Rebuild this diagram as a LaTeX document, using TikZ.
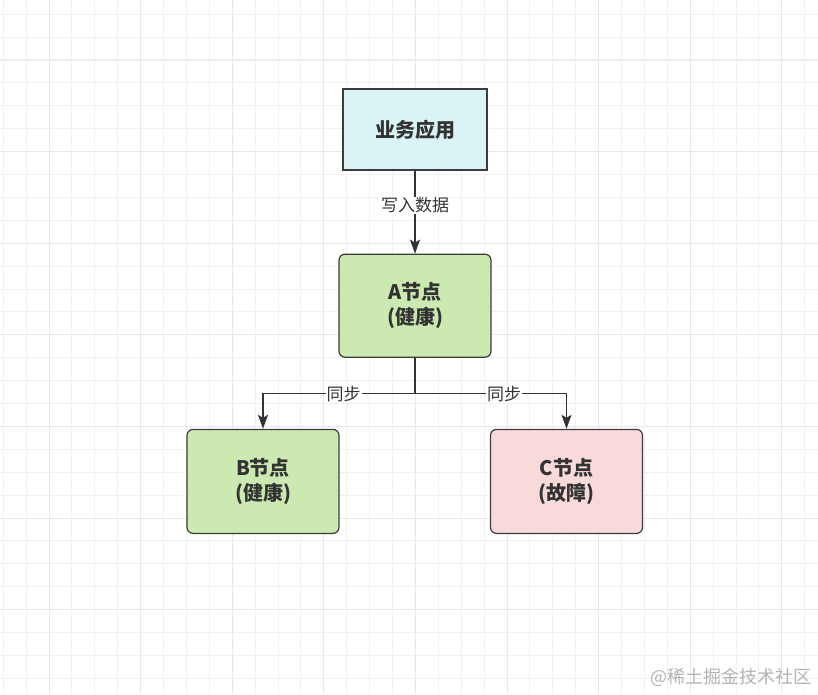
\documentclass[tikz,border=0pt]{standalone}
\usepackage{fontspec}
\setmainfont{Noto Sans CJK SC}
\usepackage{xcolor}
\usetikzlibrary{arrows.meta,positioning}

\definecolor{appcyan}{HTML}{DAF4F6}
\definecolor{okgreen}{HTML}{CBE9B1}
\definecolor{badpink}{HTML}{F9DADA}
\definecolor{boxline}{HTML}{3A3C3F}
\definecolor{textgray}{HTML}{333333}
\definecolor{gridminor}{HTML}{F1F1F1}
\definecolor{gridmajor}{HTML}{E8E8E8}
\definecolor{markgray}{HTML}{B4B4B4}

\begin{document}
\begin{tikzpicture}[x=1pt, y=1pt, >={Stealth[length=14pt,width=10pt,inset=3pt]},
  box/.style={draw=boxline, line width=1.2pt, minimum width=152pt, minimum height=104pt,
    rounded corners=6pt, align=center, text=textgray,
    font=\fontsize{20}{25}\selectfont\bfseries},
  lbl/.style={fill=white, inner sep=1pt, text=textgray, font=\fontsize{17}{20}\selectfont},
  link/.style={draw=textgray, line width=1.2pt}]
  % background grid
  \fill[white] (0,0) rectangle (818,694);
  \useasboundingbox (0,0) rectangle (818,694);
  \foreach \k in {0,...,35} \draw[gridminor, line width=0.9pt] ({3.2+22.9*\k},0) -- ++(0,694);
  \foreach \k in {0,...,29} \draw[gridminor, line width=0.9pt] (0,{679.8-22.9*\k}) -- ++(818,0);
  \foreach \k in {0,...,8} \draw[gridmajor, line width=1pt] ({49+91.6*\k},0) -- ++(0,694);
  \foreach \k in {0,...,6} \draw[gridmajor, line width=1pt] (0,{634-91.6*\k}) -- ++(818,0);

  % nodes
  \node[box, fill=appcyan, rounded corners=0pt, minimum width=144pt, minimum height=81pt]
    (app) at (415,564.5) {业务应用};
  \node[box, fill=okgreen, minimum height=103pt] (A) [below=83pt of app] {A节点\\(健康)};
  \node[box, fill=okgreen] (B) [below=71pt of A, xshift=-152pt] {B节点\\(健康)};
  \node[box, fill=badpink] (C) [below=71pt of A, xshift=151.5pt] {C节点\\(故障)};
  \path (A.south) ++(0,-36) coordinate (split);

  % links
  \draw[->, link] (app) -- node[lbl, pos=0.42] {写入数据} (A);
  \draw[link] (A) -- (split);
  \draw[->, link] (split) -| node[lbl, pos=0.235] {同步} (B);
  \draw[->, link] (split) -| node[lbl, pos=0.294] {同步} (C);

  \node[anchor=east, inner sep=0pt, text=markgray, font=\fontsize{18}{20}\selectfont]
    (mark) at (812,17) {@稀土掘金技术社区};
\end{tikzpicture}
\end{document}
